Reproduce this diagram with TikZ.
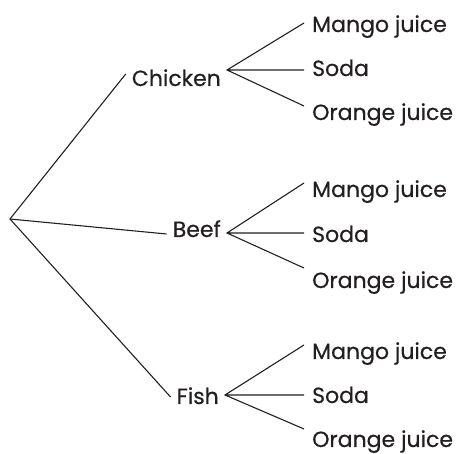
\documentclass[tikz,border=0pt]{standalone}
\usepackage{fontspec}
\setmainfont{Poppins}[FakeBold=0.4]
\usepackage{tikz}
\definecolor{inkgray}{HTML}{231F20}

\begin{document}
\begin{tikzpicture}[x=1pt,y=-1pt,
    dish/.style={anchor=base east,inner xsep=6pt},
    drink/.style={anchor=base west,inner xsep=8pt}]
  \useasboundingbox (0,0) rectangle (456,454);
  \coordinate (root) at (10,219);
  \begin{scope}[font=\fontsize{22}{22}\selectfont,text=inkgray,
      text height=16pt,text depth=0pt,inner ysep=0pt]
    \node[dish] (chicken) at (227,86)  {Chicken};
    \node[dish] (beef)    at (227,237) {Beef};
    \node[dish] (fish)    at (225,404) {Fish};
    \node[drink] (mango1)  at (304,32)  {Mango juice};
    \node[drink] (soda1)   at (304,76)  {Soda};
    \node[drink] (orange1) at (304,120) {Orange juice};
    \node[drink] (mango2)  at (304,197) {Mango juice};
    \node[drink] (soda2)   at (304,242) {Soda};
    \node[drink] (orange2) at (304,288) {Orange juice};
    \node[drink] (mango3)  at (304,359) {Mango juice};
    \node[drink] (soda3)   at (304,403) {Soda};
    \node[drink] (orange3) at (304,447) {Orange juice};
  \end{scope}
  \begin{scope}[draw=inkgray,line width=1.1pt,line join=miter]
    \draw ([yshift=4pt]chicken.west) -- (root) -- ([yshift=-1pt]fish.west);
    \draw (root) -- ([yshift=-5pt]beef.west);
    \foreach \dish/\k/\sd/\sm/\ss/\so in
        {chicken/1/8pt/1pt/-2pt/6pt, beef/2/-4pt/6pt/1pt/12pt, fish/3/1pt/6pt/0pt/10pt}
      \draw ([yshift=\sm]mango\k.west) -- ([yshift=\sd]\dish.east) -- ([yshift=\so]orange\k.west)
            ([yshift=\sd]\dish.east) -- ([yshift=\ss]soda\k.west);
  \end{scope}
\end{tikzpicture}
\end{document}
